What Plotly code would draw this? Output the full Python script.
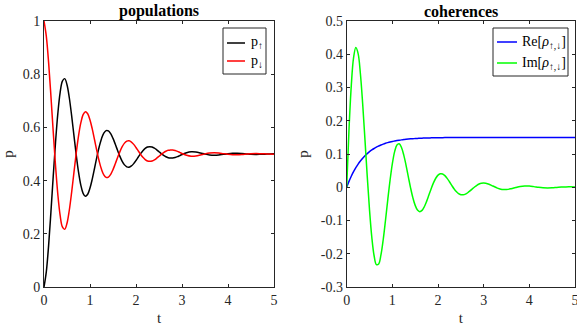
import plotly.graph_objects as go

# time samples
t = [0.00, 0.05, 0.10, 0.15, 0.20, 0.25, 0.30, 0.35, 0.40, 0.45,
     0.50, 0.55, 0.60, 0.65, 0.70, 0.75, 0.80, 0.85, 0.90, 0.95,
     1.00, 1.05, 1.10, 1.15, 1.20, 1.25, 1.30, 1.35, 1.40, 1.45,
     1.50, 1.55, 1.60, 1.65, 1.70, 1.75, 1.80, 1.85, 1.90, 1.95,
     2.00, 2.05, 2.10, 2.15, 2.20, 2.25, 2.30, 2.35, 2.40, 2.45,
     2.50, 2.55, 2.60, 2.65, 2.70, 2.75, 2.80, 2.85, 2.90, 2.95,
     3.00, 3.10, 3.20, 3.30, 3.40, 3.50, 3.60, 3.70, 3.80, 3.90,
     4.00, 4.10, 4.20, 4.30, 4.40, 4.50, 4.60, 4.70, 4.80, 4.90, 5.00]

p_up = [0.0000, 0.0568, 0.1555, 0.2804, 0.4147, 0.5426, 0.6508, 0.7297, 0.7742, 0.7833,
        0.7604, 0.7115, 0.6453, 0.5708, 0.4974, 0.4328, 0.3833, 0.3523, 0.3412, 0.3488,
        0.3721, 0.4067, 0.4474, 0.4892, 0.5272, 0.5577, 0.5784, 0.5880, 0.5869, 0.5763,
        0.5586, 0.5366, 0.5132, 0.4910, 0.4725, 0.4591, 0.4518, 0.4506, 0.4550, 0.4638,
        0.4756, 0.4886, 0.5014, 0.5125, 0.5209, 0.5261, 0.5277, 0.5262, 0.5219, 0.5158,
        0.5086, 0.5014, 0.4948, 0.4896, 0.4861, 0.4846, 0.4849, 0.4869, 0.4900, 0.4939,
        0.4980, 0.5050, 0.5085, 0.5078, 0.5041, 0.4996, 0.4963, 0.4952, 0.4962, 0.4986,
        0.5010, 0.5025, 0.5026, 0.5017, 0.5003, 0.4991, 0.4985, 0.4987, 0.4993, 0.5001, 0.5007]

p_down = [1.0000, 0.9432, 0.8445, 0.7196, 0.5853, 0.4574, 0.3492, 0.2703, 0.2258, 0.2167,
          0.2396, 0.2885, 0.3547, 0.4292, 0.5026, 0.5672, 0.6167, 0.6477, 0.6588, 0.6512,
          0.6279, 0.5933, 0.5526, 0.5108, 0.4728, 0.4423, 0.4216, 0.4120, 0.4131, 0.4237,
          0.4414, 0.4634, 0.4868, 0.5090, 0.5275, 0.5409, 0.5482, 0.5494, 0.5450, 0.5362,
          0.5244, 0.5114, 0.4986, 0.4875, 0.4791, 0.4739, 0.4723, 0.4738, 0.4781, 0.4842,
          0.4914, 0.4986, 0.5052, 0.5104, 0.5139, 0.5154, 0.5151, 0.5131, 0.5100, 0.5061,
          0.5020, 0.4950, 0.4915, 0.4922, 0.4959, 0.5004, 0.5037, 0.5048, 0.5038, 0.5014,
          0.4990, 0.4975, 0.4974, 0.4983, 0.4997, 0.5009, 0.5015, 0.5013, 0.5007, 0.4999, 0.4993]

re_rho = [0.0000, 0.0176, 0.0332, 0.0469, 0.0590, 0.0697, 0.0791, 0.0875, 0.0948, 0.1013,
          0.1070, 0.1121, 0.1165, 0.1205, 0.1239, 0.1270, 0.1297, 0.1321, 0.1342, 0.1361,
          0.1377, 0.1391, 0.1404, 0.1415, 0.1425, 0.1434, 0.1442, 0.1449, 0.1455, 0.1460,
          0.1465, 0.1469, 0.1473, 0.1476, 0.1479, 0.1481, 0.1483, 0.1485, 0.1487, 0.1489,
          0.1490, 0.1491, 0.1492, 0.1493, 0.1494, 0.1495, 0.1495, 0.1496, 0.1496, 0.1497,
          0.1497, 0.1497, 0.1498, 0.1498, 0.1498, 0.1498, 0.1499, 0.1499, 0.1499, 0.1499,
          0.1499, 0.1499, 0.1500, 0.1500, 0.1500, 0.1500, 0.1500, 0.1500, 0.1500, 0.1500,
          0.1500, 0.1500, 0.1500, 0.1500, 0.1500, 0.1500, 0.1500, 0.1500, 0.1500, 0.1500, 0.1500]

im_rho = [0.0000, 0.1720, 0.3050, 0.3888, 0.4202, 0.4018, 0.3415, 0.2509, 0.1433, 0.0327,
          -0.0685, -0.1503, -0.2060, -0.2326, -0.2305, -0.2034, -0.1572, -0.0992, -0.0371, 0.0217,
          0.0713, 0.1072, 0.1272, 0.1308, 0.1197, 0.0967, 0.0659, 0.0314, -0.0024, -0.0320,
          -0.0546, -0.0686, -0.0734, -0.0696, -0.0586, -0.0425, -0.0236, -0.0043, 0.0132, 0.0271,
          0.0365, 0.0407, 0.0400, 0.0350, 0.0267, 0.0165, 0.0057, -0.0045, -0.0130, -0.0191,
          -0.0223, -0.0228, -0.0207, -0.0165, -0.0111, -0.0050, 0.0008, 0.0059, 0.0098, 0.0121,
          0.0128, 0.0100, 0.0039, -0.0025, -0.0065, -0.0069, -0.0045, -0.0009, 0.0024, 0.0039,
          0.0036, 0.0019, -0.0002, -0.0017, -0.0022, -0.0017, -0.0006, 0.0005, 0.0011, 0.0012, 0.0008]

x_ticks = [0, 1, 2, 3, 4, 5]
y1_ticks = [0, 0.2, 0.4, 0.6, 0.8, 1]
y1_labels = ["0", "0.2", "0.4", "0.6", "0.8", "1"]
y2_ticks = [-0.3, -0.2, -0.1, 0, 0.1, 0.2, 0.3, 0.4, 0.5]
y2_labels = ["-0.3", "-0.2", "-0.1", "0", "0.1", "0.2", "0.3", "0.4", "0.5"]

titles = ["populations", "coherences"]
names_left = ["p<sub>↑</sub>", "p<sub>↓</sub>"]
names_right = ["Re[<i>ρ</i><sub>↑,↓</sub>]", "Im[<i>ρ</i><sub>↑,↓</sub>]"]
colors_left = ["#000000", "#ff0000"]
colors_right = ["#0000ff", "#00ff00"]

FONT = "Liberation Serif"
AX = "#262626"
W, H = 577, 327
ML, MR, MT, MB = 44, 2, 21, 40
PW = W - ML - MR
PH = H - MT - MB


def px_x(p):
    return (p - ML) / PW


def px_y(p):
    return 1 - (p - MT) / PH


fig = go.Figure()
fig.add_trace(go.Scatter(x=t, y=p_up, mode="lines", name=names_left[0],
                         line=dict(color=colors_left[0], width=1.5, shape="spline"),
                         xaxis="x", yaxis="y", showlegend=False))
fig.add_trace(go.Scatter(x=t, y=p_down, mode="lines", name=names_left[1],
                         line=dict(color=colors_left[1], width=1.5, shape="spline"),
                         xaxis="x", yaxis="y", showlegend=False))
fig.add_trace(go.Scatter(x=t, y=re_rho, mode="lines", name=names_right[0],
                         line=dict(color=colors_right[0], width=1.5, shape="spline"),
                         xaxis="x2", yaxis="y2", showlegend=False))
fig.add_trace(go.Scatter(x=t, y=im_rho, mode="lines", name=names_right[1],
                         line=dict(color=colors_right[1], width=1.5, shape="spline"),
                         xaxis="x2", yaxis="y2", showlegend=False))

axis_common = dict(showline=True, linecolor=AX, linewidth=1, mirror="ticks",
                   ticks="inside", ticklen=3, tickcolor=AX, tickwidth=1,
                   showgrid=False, zeroline=False, automargin=False,
                   ticklabeloverflow="allow",
                   tickfont=dict(family=FONT, size=14, color=AX))

d1 = [0, px_x(274)]
d2 = [px_x(346.7), 1]
title_font = dict(family=FONT, size=15, color=AX)

fig.update_layout(
    width=W, height=H,
    margin=dict(l=ML, r=MR, t=MT, b=MB, pad=0),
    paper_bgcolor="white", plot_bgcolor="white",
    font=dict(family=FONT, color=AX),
    xaxis=dict(domain=d1, range=[0, 5], tickvals=x_ticks, anchor="y",
               title=dict(text="t", font=title_font, standoff=5), **axis_common),
    yaxis=dict(domain=[0, 1], range=[0, 1], tickvals=y1_ticks, ticktext=y1_labels, anchor="x",
               title=dict(text="p", font=title_font, standoff=8), **axis_common),
    xaxis2=dict(domain=d2, range=[0, 5], tickvals=x_ticks, anchor="y2",
                title=dict(text="t", font=title_font, standoff=5), **axis_common),
    yaxis2=dict(domain=[0, 1], range=[-0.3, 0.5], tickvals=y2_ticks, ticktext=y2_labels, anchor="x2",
                title=dict(text="p", font=title_font, standoff=8), **axis_common),
)

# titles
for dom, txt in zip([d1, d2], titles):
    fig.add_annotation(x=(dom[0] + dom[1]) / 2, y=1, xref="paper", yref="paper",
                       text="<b>" + txt + "</b>", showarrow=False,
                       xanchor="center", yanchor="middle",
                       yshift=10, font=dict(family=FONT, size=16, color="#000000"))

# legends (drawn as boxes with sample lines and labels)
legend_specs = [
    dict(box=(223, 28, 266, 74), rows=[43, 61], line=(227, 245), text_x=249,
         names=names_left, colors=colors_left),
    dict(box=(493, 28, 568, 76), rows=[42, 63], line=(497, 517), text_x=520,
         names=names_right, colors=colors_right),
]
for spec in legend_specs:
    x0, y0, x1, y1 = spec["box"]
    fig.add_shape(type="rect", xref="paper", yref="paper",
                  x0=px_x(x0), x1=px_x(x1), y0=px_y(y1), y1=px_y(y0),
                  line=dict(color=AX, width=1), fillcolor="white", layer="above")
    for ry, nm, col in zip(spec["rows"], spec["names"], spec["colors"]):
        fig.add_shape(type="line", xref="paper", yref="paper",
                      x0=px_x(spec["line"][0]), x1=px_x(spec["line"][1]),
                      y0=px_y(ry), y1=px_y(ry),
                      line=dict(color=col, width=1.5), layer="above")
        fig.add_annotation(x=px_x(spec["text_x"]), y=px_y(ry), xref="paper", yref="paper",
                           text=nm, showarrow=False, xanchor="left", yanchor="middle",
                           font=dict(family=FONT, size=14, color="#000000"))

fig.write_html("out.html", config={"displayModeBar": False},
               post_script="document.body.style.margin='0px';")
